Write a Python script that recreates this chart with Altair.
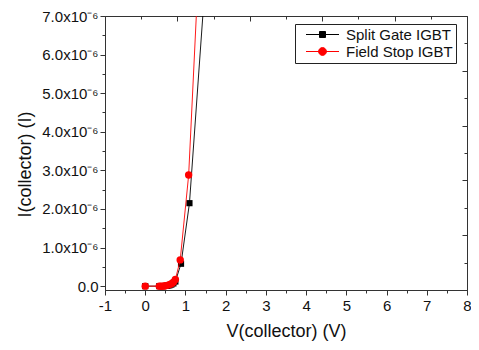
import altair as alt
import pandas as pd

series_names = ["Split Gate IGBT", "Field Stop IGBT"]
series_colors = ["#000000", "#ff0000"]

# V(collector) in V, I(collector) in units of 1e-6 A
vc_split = [0, 0.35, 0.4, 0.45, 0.5, 0.55, 0.6, 0.65, 0.7, 0.75, 0.89, 1.1, 1.5]
ic_split = [0, 0, 0, 0, 0.005, 0.01, 0.02, 0.04, 0.07, 0.12, 0.58, 2.15, 8.0]
vc_fs = [0, 0.35, 0.4, 0.45, 0.5, 0.55, 0.6, 0.65, 0.7, 0.75, 0.87, 1.08, 1.28]
ic_fs = [0, 0, 0, 0, 0.01, 0.02, 0.04, 0.06, 0.1, 0.17, 0.68, 2.88, 7.22]

x_ticks = [-1, -0.5, 0, 0.5, 1, 1.5, 2, 2.5, 3, 3.5, 4, 4.5, 5, 5.5, 6, 6.5, 7, 7.5, 8]
y_ticks = [0, 0.5, 1, 1.5, 2, 2.5, 3, 3.5, 4, 4.5, 5, 5.5, 6, 6.5, 7]
frame_major = [0, 2, 4, 6, 8, 10]
frame_minor = [1, 3, 5, 7, 9]

df = pd.concat([
    pd.DataFrame({"vc": vc_split, "ic": ic_split, "series": series_names[0]}),
    pd.DataFrame({"vc": vc_fs, "ic": ic_fs, "series": series_names[1]}),
], ignore_index=True)

FONT = "Liberation Sans"
AX = "#333333"

X = alt.X(
    "vc:Q",
    scale=alt.Scale(domain=[-1, 8], nice=False, zero=False),
    axis=alt.Axis(
        values=x_ticks,
        labelExpr="datum.value % 1 === 0 ? ('' + datum.value) : ''",
        tickSize={"condition": {"test": "datum.value % 1 === 0", "value": 5}, "value": 3},
        labelFlush=False, labelOverlap=False, labelBound=False,
        labelFont=FONT, labelFontSize=15, labelColor="#111", labelPadding=3,
        title="V(collector) (V)", titleFont=FONT, titleFontSize=18,
        titleFontWeight="normal", titleColor="#111", titleY=46,
        titleBaseline="alphabetic",
        grid=False, domainColor=AX, tickColor=AX,
    ),
)
Y = alt.Y(
    "ic:Q",
    scale=alt.Scale(domain=[-0.1, 7], nice=False, zero=False),
    axis=alt.Axis(
        values=y_ticks,
        labelExpr="datum.value === 0 ? '0.0' : (datum.value % 1 === 0 ? format(datum.value, '.1f') + 'x10⁻⁶' : '')",
        tickSize={"condition": {"test": "datum.value % 1 === 0", "value": 5}, "value": 3},
        labelFlush=False, labelOverlap=False, labelBound=False,
        labelFont=FONT, labelFontSize=15, labelColor="#111", labelPadding=2,
        title="I(collector) (I)", titleFont=FONT, titleFontSize=18,
        titleFontWeight="normal", titleColor="#111",
        titleX=-80, titleY=148, titleAngle=270, titleAlign="center",
        titleBaseline="middle",
        grid=False, domainColor=AX, tickColor=AX,
    ),
)

base = alt.Chart(df)

def series_layers(name, color, point_mark):
    sel = base.transform_filter(alt.datum.series == name)
    line = sel.mark_line(color=color, strokeWidth=0.9, clip=True).encode(x=X, y=Y, order="vc:Q")
    pts = point_mark(sel, color).encode(x=X, y=Y)
    return [line, pts]

layers = []
layers += series_layers(series_names[0], series_colors[0],
                        lambda c, col: c.mark_square(color=col, size=38, opacity=1, clip=True))
layers += series_layers(series_names[1], series_colors[1],
                        lambda c, col: c.mark_circle(color=col, size=55, opacity=1, clip=True))

sq_path = "M-5.5,0L5.5,0M-1,-1L1,-1L1,1L-1,1Z"
circ_path = "M-5.5,0L5.5,0M1.3,0A1.3,1.3,0,1,1,-1.3,0A1.3,1.3,0,1,1,1.3,0Z"

leg = alt.Legend(
    title=None, orient="none", legendX=190, legendY=8, direction="vertical",
    fillColor="white", strokeColor="#222", padding=3,
    symbolSize=36, symbolStrokeWidth=1, symbolOffset=17, labelOffset=16,
    labelFont=FONT, labelFontSize=15, labelColor="#111", rowPadding=1,
)
color_scale = alt.Scale(domain=series_names, range=series_colors)
legend_layer = base.transform_filter("datum.ic < -100").mark_point(
    filled=True, size=36, opacity=1
).encode(
    x=X, y=Y,
    fill=alt.Fill("series:N", scale=color_scale, legend=leg),
    stroke=alt.Stroke("series:N", scale=color_scale, legend=leg),
    shape=alt.Shape("series:N", scale=alt.Scale(domain=series_names, range=[sq_path, circ_path]), legend=leg),
)
layers.append(legend_layer)

inner = alt.layer(*layers)

frame_df_major = pd.DataFrame({"f": frame_major})
frame_df_minor = pd.DataFrame({"f": frame_minor})

def frame_layer(frame_df, tick_len):
    return alt.Chart(frame_df).mark_point(opacity=0).encode(
        x=alt.X("f:Q", scale=alt.Scale(domain=[0, 10], nice=False, zero=False),
                axis=alt.Axis(orient="top", values=list(frame_df["f"]), labels=False,
                              domain=False, grid=False, tickSize=tick_len,
                              offset=-tick_len, title=None, tickColor=AX)),
        y=alt.Y("f:Q", scale=alt.Scale(domain=[0, 10], nice=False, zero=False),
                axis=alt.Axis(orient="right", values=list(frame_df["f"]), labels=False,
                              domain=False, grid=False, tickSize=tick_len,
                              offset=-tick_len, title=None, tickColor=AX)),
    )

chart = alt.layer(
    inner, frame_layer(frame_df_major, 5), frame_layer(frame_df_minor, 3)
).resolve_scale(x="independent", y="independent").properties(
    width=362, height=274,
    autosize=alt.AutoSizeParams(type="none"),
    padding={"left": 97, "top": 8, "right": 4, "bottom": 60},
    background="white",
).configure_view(stroke=AX, strokeWidth=1)

chart.save("out.html", embed_options={"renderer": "svg", "actions": False})
